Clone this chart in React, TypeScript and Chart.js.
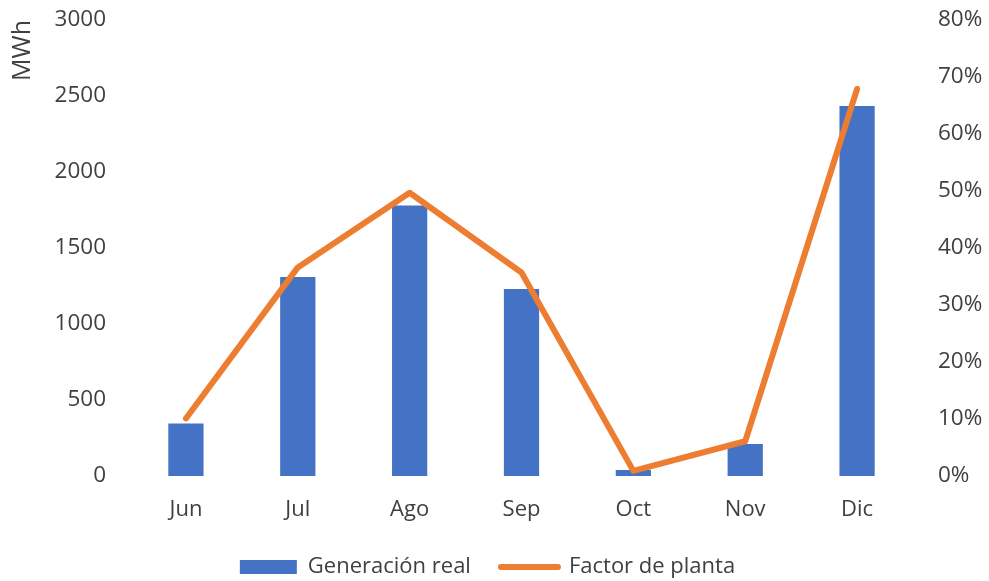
import React, { useEffect, useRef } from "react";
import { Chart, registerables } from "chart.js";

Chart.register(...registerables);

const categories = ["Jun", "Jul", "Ago", "Sep", "Oct", "Nov", "Dic"];
const generacionReal = [345, 1310, 1780, 1230, 40, 210, 2435];
const factorPlanta = [10.1, 36.6, 49.7, 35.7, 0.9, 6.1, 67.9];
const leftTicks = [0, 500, 1000, 1500, 2000, 2500, 3000];
const rightTicks = [0, 10, 20, 30, 40, 50, 60, 70, 80];

const BLUE = "#4472C4";
const ORANGE = "#ED7D31";
const TEXT = "#404040";
const FONT = "'Open Sans', 'Noto Sans', sans-serif";

export default function App() {
  const ref = useRef<HTMLCanvasElement | null>(null);

  useEffect(() => {
    if (!ref.current) return;
    const legendFitPlugin = {
      id: "legendFit",
      beforeInit(chart: any) {
        const legend = chart.legend;
        if (!legend) return;
        const orig = legend.fit;
        legend.fit = function () {
          orig.bind(legend)();
          this.height -= 7;
        };
      },
      afterLayout(chart: any) {
        const legend = chart.legend;
        if (legend) {
          legend.right -= 14;
          legend.width = legend.right - legend.left;
        }
      },
    };
    const chart = new Chart(ref.current, {
      type: "bar",
      data: {
        labels: categories,
        datasets: [
          {
            type: "bar",
            label: "Generación real",
            data: generacionReal,
            backgroundColor: BLUE,
            borderWidth: 0,
            yAxisID: "y",
            order: 1,
            barPercentage: 0.315,
            categoryPercentage: 1,
          },
          {
            type: "line",
            label: "Factor de planta",
            data: factorPlanta,
            borderColor: ORANGE,
            backgroundColor: ORANGE,
            borderWidth: 6,
            pointRadius: 0,
            pointHoverRadius: 0,
            tension: 0,
            borderCapStyle: "round",
            borderJoinStyle: "round",
            yAxisID: "y1",
            order: 0,
          } as any,
        ],
      },
      options: {
        animation: false,
        responsive: false,
        layout: { padding: { top: 20, right: 0, bottom: 0, left: 0 } },
        plugins: {
          tooltip: { enabled: false },
          legend: {
            position: "bottom",
            onClick: () => {},
            labels: {
              usePointStyle: true,
              pointStyleWidth: 57,
              boxHeight: 14,
              padding: 30,
              color: TEXT,
              font: { family: FONT, size: 22 },
              generateLabels: () => [
                {
                  text: "Generación real",
                  datasetIndex: 0,
                  fillStyle: BLUE,
                  strokeStyle: BLUE,
                  lineWidth: 0,
                  pointStyle: "rect",
                  hidden: false,
                  fontColor: TEXT,
                },
                {
                  text: "Factor de planta",
                  datasetIndex: 1,
                  fillStyle: ORANGE,
                  strokeStyle: ORANGE,
                  lineWidth: 6,
                  lineCap: "round",
                  pointStyle: "line",
                  hidden: false,
                  fontColor: TEXT,
                } as any,
              ],
            },
          },
        },
        scales: {
          x: {
            grid: { display: false, drawTicks: false },
            border: { display: false },
            ticks: { color: TEXT, font: { family: FONT, size: 22 }, padding: 21 },
            afterFit: (s: any) => {
              s.height = 50;
              s.paddingLeft = 0;
              s.paddingRight = 0;
            },
          },
          y: {
            position: "left",
            min: 0,
            max: 3000,
            grid: { display: false, drawTicks: false },
            border: { display: false },
            afterBuildTicks: (s: any) => {
              s.ticks = leftTicks.map((v) => ({ value: v }));
            },
            ticks: {
              color: TEXT,
              font: { family: FONT, size: 22.5 },
              padding: 24,
              callback: (v: any) => String(v),
            },
            title: {
              display: true,
              text: "MWh",
              align: "end",
              color: TEXT,
              font: { family: FONT, size: 25 },
              padding: { top: 8, bottom: 0 },
            },
            afterFit: (s: any) => {
              s.width = 130;
              s.paddingTop = 0;
              s.paddingBottom = 0;
            },
          },
          y1: {
            position: "right",
            min: 0,
            max: 80,
            grid: { display: false, drawTicks: false },
            border: { display: false },
            afterBuildTicks: (s: any) => {
              s.ticks = rightTicks.map((v) => ({ value: v }));
            },
            ticks: {
              color: TEXT,
              font: { family: FONT, size: 22.5 },
              padding: 25,
              callback: (v: any) => `${v}%`,
            },
            afterFit: (s: any) => {
              s.width = 76;
              s.paddingTop = 0;
              s.paddingBottom = 0;
            },
          },
        },
      },
      plugins: [legendFitPlugin],
    });
    return () => chart.destroy();
  }, []);

  return (
    <div style={{ position: "absolute", left: 0, top: 0, width: 989, height: 581, background: "#fff" }}>
      <canvas ref={ref} width={989} height={581} style={{ display: "block" }} />
    </div>
  );
}
